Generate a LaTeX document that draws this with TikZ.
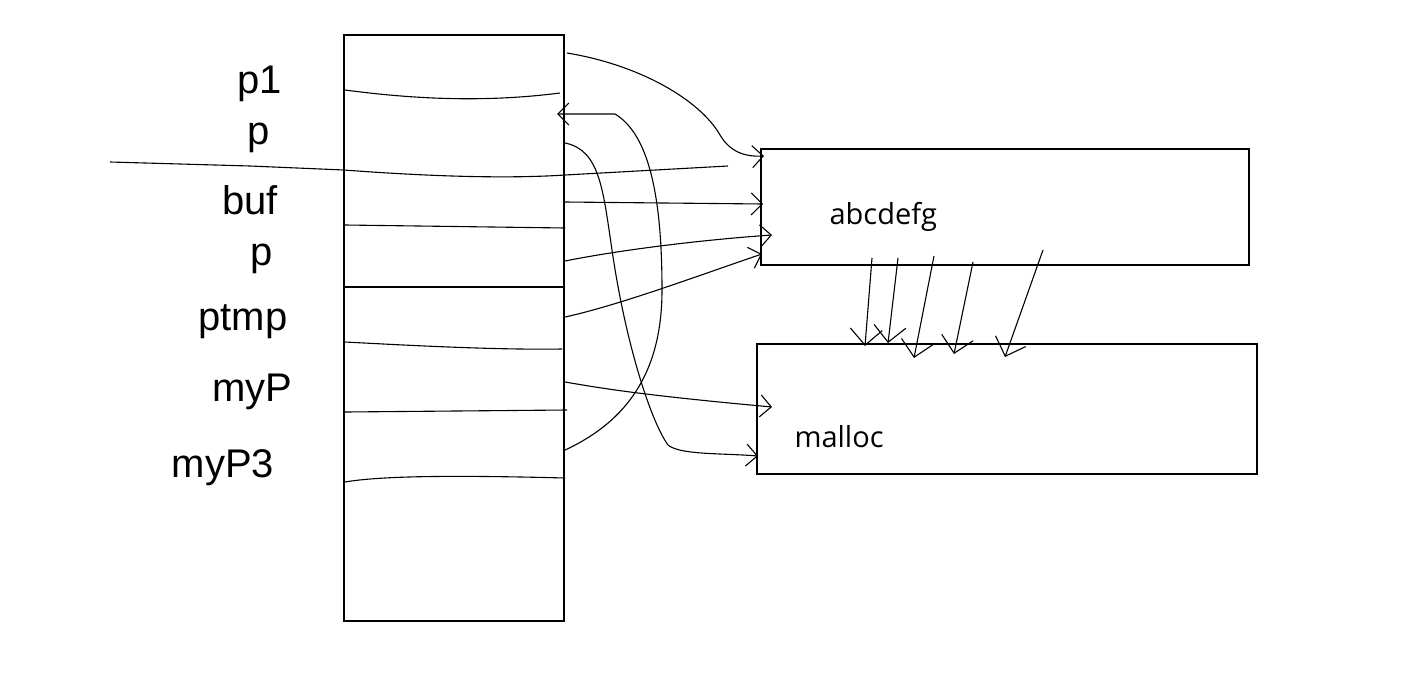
\documentclass[tikz,border=0pt]{standalone}
\usepackage{fontspec}
\setmainfont{Open Sans}
\newfontfamily\handfont{Liberation Sans}
\usetikzlibrary{arrows.meta}
\begin{document}
\begin{tikzpicture}[x=1pt,y=-1pt,line width=1.1pt,
  conn/.style={-{Straight Barb[length=11pt,width=22pt,line width=1.1pt]}},
  vconn/.style={-{Straight Barb[length=16pt,width=32pt,line width=1.1pt]}},
  rectbox/.style={draw,inner sep=0pt},
  lbl/.style={font=\handfont\fontsize{40}{44}\selectfont,inner sep=0pt},
  boxtxt/.style={font=\fontsize{29}{34}\selectfont,inner sep=0pt,anchor=base west}]
\useasboundingbox (0,0) rectangle (1416,672);
% memory column
\node[rectbox,minimum width=220pt,minimum height=586pt] (mem) at (454,328) {};
% target boxes
\node[rectbox,minimum width=488pt,minimum height=116pt] (abc) at (1005,207) {};
\node[rectbox,minimum width=500pt,minimum height=130pt] (mal) at (1007,409) {};
\node[boxtxt] (abct) at (829,224) {abcdefg};
\node[boxtxt] (malt) at (794,447) {malloc};
% labels
\node[lbl] (l1) at (260,84) {p1};
\node[lbl] (l2) at (259,138) {p};
\node[lbl] (l3) at (250,200) {buf};
\node[lbl] (l4) at (262,259) {p};
\node[lbl] (l5) at (243,322) {ptmp};
\node[lbl] (l6) at (252,392) {myP};
\node[lbl] (l7) at (223,468) {myP3};
% dividers
\draw (345,90) .. controls (420,100) and (490,102) .. (560,93);
\draw (110,162) -- (250,166) -- (344,170) .. controls (450,178) and (520,178) .. (565,175) -- (728,166);
\draw (345,225) -- (565,228);
\draw (345,287) -- (565,287);
\draw (345,342) .. controls (420,346) and (500,350) .. (562,349);
\draw (345,412) -- (567,410);
\draw (345,482) .. controls (380,476) and (450,475) .. (565,478);
% start / end points
\coordinate (s1) at (567,53);
\coordinate (e1) at (764,156);
\coordinate (s2) at (563,451);
\coordinate (e2) at (557,114);
\coordinate (s3) at (565,143);
\coordinate (e3) at (758,456);
\coordinate (s5) at (565,202);
\coordinate (e5) at (763,204);
\coordinate (s6) at (565,261);
\coordinate (e6) at (772,235);
\coordinate (s7) at (565,317);
\coordinate (e7) at (762,254);
\coordinate (s8) at (565,382);
\coordinate (e8) at (772,407);
% connectors
\draw[conn] (s1) .. controls (640,65) and (700,100) .. (720,135) .. controls (730,152) and (745,157) .. (e1);
\draw[conn] (s2) .. controls (620,425) and (662,380) .. (662,290) .. controls (662,200) and (650,135) .. (615,114) -- (e2);
\draw[conn] (s3) .. controls (600,150) and (603,190) .. (612,250) .. controls (625,340) and (650,420) .. (668,445) .. controls (680,455) and (720,453) .. (e3);
\draw[conn] (s5) -- (e5);
\draw[conn] (s6) .. controls (620,250) and (700,240) .. (e6);
\draw[conn] (s7) .. controls (620,305) and (700,275) .. (e7);
\draw[conn] (s8) .. controls (600,388) and (640,395) .. (e8);
% arrows between boxes
\coordinate (a1) at (872,258); \coordinate (b1) at (865,346);
\coordinate (a2) at (898,258); \coordinate (b2) at (888,343);
\coordinate (a3) at (934,256); \coordinate (b3) at (914,358);
\coordinate (a4) at (973,262); \coordinate (b4) at (954,354);
\coordinate (a5) at (1043,250); \coordinate (b5) at (1005,357);
\foreach \i in {1,...,5} {\draw[vconn] (a\i) -- (b\i);}
\end{tikzpicture}
\end{document}
